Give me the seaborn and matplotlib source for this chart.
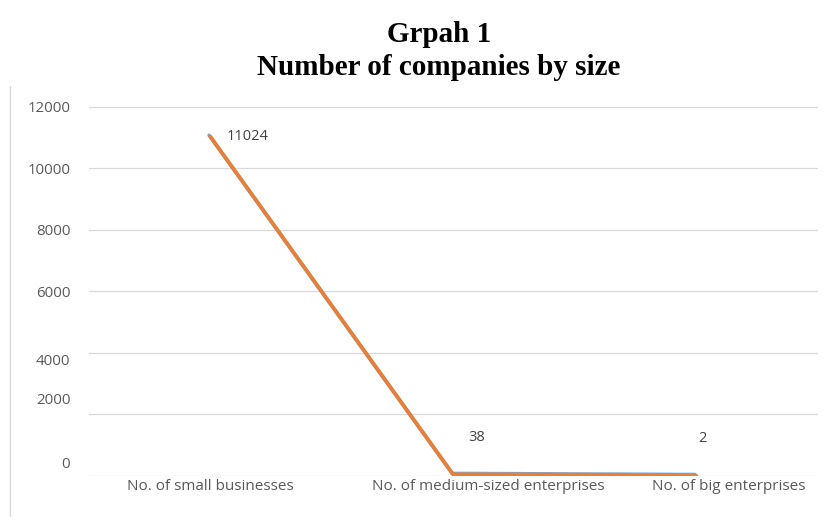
import matplotlib
matplotlib.use("Agg")
import matplotlib.pyplot as plt
import matplotlib.patheffects as pe
import matplotlib.transforms as mtransforms
from matplotlib.lines import Line2D
import seaborn as sns
import pandas as pd

categories = ["No. of small businesses", "No. of medium-sized enterprises", "No. of big enterprises"]
counts = [11024, 38, 2]
y_ticks = [0, 2000, 4000, 6000, 8000, 10000, 12000]
y_tick_labels = ["0", "2000", "4000", "6000", "8000", "10000", "12000"]

df = pd.DataFrame({"category": categories, "count": counts})

sns.set_theme(style="white")
plt.rcParams["font.family"] = ["Open Sans", "DejaVu Sans"]

fig = plt.figure(figsize=(8.25, 5.17), dpi=100)
ax = fig.add_axes([0.1079, 0.0793, 0.8836, 0.7144])

sns.lineplot(data=df, x="category", y="count", ax=ax, sort=False,
             color="#ED7D31", linewidth=2.6,
             path_effects=[pe.SimpleLineShadow(offset=(-1.0, 1.0), shadow_color="#5B9BD5", alpha=0.9, rho=1.0),
                           pe.Normal()])

ax.set_xlim(-0.5, 2.5)
ax.set_ylim(0, 12000)
ax.set_yticks(y_ticks)
ax.set_yticklabels(y_tick_labels)
ax.yaxis.grid(True, color="#D9D9D9", linewidth=0.9)
ax.set_axisbelow(True)
for s in ax.spines.values():
    s.set_visible(False)
ax.set_xlabel("")
ax.set_ylabel("")
ax.tick_params(axis="y", length=0, pad=13.5, labelsize=10.8, labelcolor="#595959")
ax.tick_params(axis="x", length=0, pad=2, labelsize=11, labelcolor="#595959")

# nudge tick labels the way the printed layout places them
y_shift = {"4000": -7, "2000": 16, "0": 14}
for lab in ax.get_yticklabels():
    dy = y_shift.get(lab.get_text(), 0)
    if dy:
        lab.set_transform(lab.get_transform() + mtransforms.ScaledTranslation(0, dy / fig.dpi, fig.dpi_scale_trans))
x_shift = [0, 35, 32]
for lab, dx in zip(ax.get_xticklabels(), x_shift):
    if dx:
        lab.set_transform(lab.get_transform() + mtransforms.ScaledTranslation(dx / fig.dpi, 0, fig.dpi_scale_trans))

# value labels
label_offsets = [(16, 0, "left", "center"), (23, 37, "center", "center"), (6, 37, "center", "center")]
for i, (v, (dx, dy, ha, va)) in enumerate(zip(counts, label_offsets)):
    ax.annotate(str(v), xy=(i, v), xytext=(dx, dy), textcoords="offset pixels",
                ha=ha, va=va, fontsize=10.5, color="#404040")

# titles
serif = ["Liberation Serif", "DejaVu Serif"]
fig.text(0.532, 0.933, "Grpah 1", ha="center", va="center", fontsize=21,
         fontweight="bold", family=serif, color="black")
fig.text(0.532, 0.870, "Number of companies by size", ha="center", va="center", fontsize=21,
         fontweight="bold", family=serif, color="black")

# left frame edge
fig.add_artist(Line2D([10 / 825, 10 / 825], [0, 1 - 86 / 517], transform=fig.transFigure,
                      color="#D9D9D9", linewidth=1.0))

fig.savefig("out.png", dpi=100)
